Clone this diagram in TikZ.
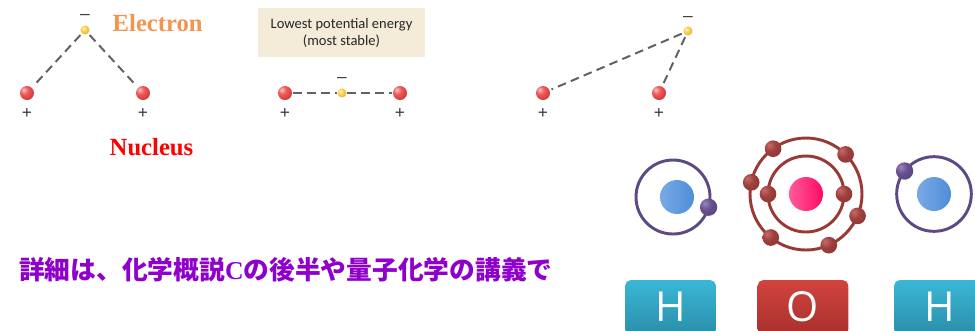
\documentclass[tikz,border=0pt]{standalone}
\usepackage{fontspec}
\setmainfont{Liberation Serif}
\newfontfamily\labelsans{Carlito}
\newfontfamily\tilefont{Open Sans}
\newfontfamily\signfont{Liberation Sans}
\newfontfamily\cjk{Noto Sans CJK JP}

\definecolor{dashgray}{HTML}{626262}
\definecolor{signgray}{HTML}{3E3448}
\definecolor{elorange}{HTML}{F39550}
\definecolor{boxbeige}{HTML}{F4ECD8}
\definecolor{hpurple}{HTML}{5C4A86}
\definecolor{orbred}{HTML}{9A3934}
\definecolor{nucblue}{HTML}{4E8ED8}
\definecolor{nucbluelt}{HTML}{79AAE6}
\definecolor{nucpink}{HTML}{FF0A64}
\definecolor{nucpinklt}{HTML}{FF5C9A}
\definecolor{tealtop}{HTML}{3AB7D6}
\definecolor{tealbot}{HTML}{2A8EAA}
\definecolor{redtop}{HTML}{D2433D}
\definecolor{redbot}{HTML}{A8302D}
\definecolor{jpviolet}{HTML}{8F00CC}

% soft spheres with an off-centre highlight
\pgfdeclareradialshading{redsphere}{\pgfpoint{-12bp}{12bp}}{%
  rgb(0bp)=(1,0.78,0.78); rgb(14bp)=(0.93,0.36,0.36); rgb(40bp)=(0.80,0.17,0.17);
  rgb(100bp)=(0.80,0.17,0.17)}
\pgfdeclareradialshading{yellowsphere}{\pgfpoint{-10bp}{10bp}}{%
  rgb(0bp)=(1,0.97,0.75); rgb(16bp)=(0.98,0.80,0.30); rgb(42bp)=(0.90,0.66,0.15);
  rgb(100bp)=(0.90,0.66,0.15)}
\pgfdeclareradialshading{brownsphere}{\pgfpoint{-12bp}{12bp}}{%
  rgb(0bp)=(0.78,0.42,0.42); rgb(18bp)=(0.62,0.25,0.24); rgb(42bp)=(0.55,0.20,0.19);
  rgb(100bp)=(0.55,0.20,0.19)}
\pgfdeclareradialshading{purplesphere}{\pgfpoint{-12bp}{12bp}}{%
  rgb(0bp)=(0.60,0.52,0.75); rgb(18bp)=(0.40,0.31,0.55); rgb(42bp)=(0.34,0.26,0.49);
  rgb(100bp)=(0.34,0.26,0.49)}

\begin{document}
\begin{tikzpicture}[x=0.75pt,y=-0.75pt,
  nucleus/.style={circle,inner sep=0pt,minimum size=10.5pt,shading=redsphere},
  electron/.style={circle,inner sep=0pt,minimum size=6.8pt,shading=yellowsphere},
  bond/.style={draw=dashgray,line width=1.5pt,dash pattern=on 6.5pt off 4pt,
               shorten <=1.5pt,shorten >=1.5pt},
  charge/.style={inner sep=0pt,text=signgray,font=\signfont\fontsize{13}{13}\selectfont},
  orbit/.style={circle,draw,inner sep=0pt,outer sep=0pt,line width=2.2pt},
  oelec/.style={circle,inner sep=0pt,minimum size=12.5pt,shading=brownsphere},
  helec/.style={circle,inner sep=0pt,minimum size=13pt,shading=purplesphere},
  tile/.style={rectangle,rounded corners=4pt,minimum width=68pt,minimum height=41pt,
               inner sep=0pt},
  tiletext/.style={inner sep=0pt,text=white,font=\tilefont\fontsize{31}{31}\selectfont},
]
\useasboundingbox (0,0) rectangle (975,330);
\clip (0,0) rectangle (975,330);

% --- electron above the midpoint ---
\node[nucleus] (p1a) at (27,93) {};
\node[nucleus] (p1b) at (143,93) {};
\node[electron] (e1) at (85,30) {};
\draw[bond] (e1) -- (p1a);
\draw[bond] (e1) -- (p1b);
\node[charge] (m1) at (85,17) {\textendash};
\node[charge] (s1a) at (27,113) {+};
\node[charge] (s1b) at (143,113) {+};
\node[anchor=base west,text=elorange,font=\bfseries\fontsize{18.5}{18.5}\selectfont]
  (lblE) at (108,31) {Electron};
\node[anchor=base west,text=red,font=\bfseries\fontsize{18.5}{18.5}\selectfont]
  (lblN) at (105,155) {Nucleus};

% --- electron between the nuclei ---
\node[fill=boxbeige,minimum width=125pt,minimum height=36.75pt,inner sep=0pt,
      align=center,text=black!85,font=\labelsans\fontsize{10.9}{12.8}\selectfont]
  (stable) at (341.5,32.5) {Lowest potential energy\\(most stable)};
\node[nucleus] (p2a) at (285,93) {};
\node[nucleus] (p2b) at (400,93) {};
\node[electron] (e2) at (342,93) {};
\draw[bond,shorten <=0.5pt,shorten >=0.5pt] (p2a) -- (e2);
\draw[bond,shorten <=0.5pt,shorten >=0.5pt] (e2) -- (p2b);
\node[charge] (m2) at (342,80) {\textendash};
\node[charge] (s2a) at (285,113) {+};
\node[charge] (s2b) at (400,113) {+};

% --- electron off to the side ---
\node[nucleus] (p3a) at (543,93) {};
\node[nucleus] (p3b) at (659,93) {};
\node[electron] (e3) at (688,31) {};
\draw[bond] (e3) -- (p3a);
\draw[bond] (e3) -- (p3b);
\node[charge] (m3) at (688,19) {\textendash};
\node[charge] (s3a) at (543,113) {+};
\node[charge] (s3b) at (659,113) {+};

% --- Japanese note ---
\node[anchor=west,inner sep=0pt,text=jpviolet,font=\bfseries\fontsize{19.3}{19.3}\selectfont]
  (note) at (19,270) {\cjk 詳細は、化学概説{\rmfamily C}の後半や量子化学の講義で};

% --- hydrogen (left) ---
\node[orbit,draw=hpurple,minimum size=55.5pt] (horbL) at (673,197) {};
\node[circle,inner sep=0pt,minimum size=25.5pt,shading=axis,shading angle=135,
      left color=nucbluelt,right color=nucblue] (hnucL) at (677,197) {};
\node[helec] (helL) at (horbL.-16) {};

% --- oxygen ---
\node[orbit,draw=orbred,minimum size=84pt] (oout) at (806,194) {};
\node[orbit,draw=orbred,minimum size=57pt] (oin) at (806,194) {};
\node[circle,inner sep=0pt,minimum size=25.5pt,shading=axis,shading angle=135,
      left color=nucpinklt,right color=nucpink] (onuc) at (806,194) {};
\node[oelec] (oi1) at (oin.180) {};
\node[oelec] (oi2) at (oin.0) {};
\node[oelec] (oo1) at (oout.126) {};
\node[oelec] (oo2) at (oout.45) {};
\node[oelec] (oo3) at (oout.168) {};
\node[oelec] (oo4) at (oout.-23) {};
\node[oelec] (oo5) at (oout.-129) {};
\node[oelec] (oo6) at (oout.-66) {};

% --- hydrogen (right) ---
\node[orbit,draw=hpurple,minimum size=56pt] (horbR) at (934,194) {};
\node[circle,inner sep=0pt,minimum size=25.5pt,shading=axis,shading angle=135,
      left color=nucbluelt,right color=nucblue] (hnucR) at (934,194) {};
\node[helec] (helR) at (horbR.142) {};

% --- element tiles ---
\node[tile,top color=tealtop,bottom color=tealbot] (tH1) at (670.5,307.5) {};
\node[tile,top color=redtop,bottom color=redbot] (tO) at (803,307.5) {};
\node[tile,top color=tealtop,bottom color=tealbot] (tH2) at (939.5,307.5) {};
\node[tiletext] (lH1) at (670.5,306.5) {H};
\node[tiletext] (lO) at (803,306.5) {O};
\node[tiletext] (lH2) at (939.5,306.5) {H};
\end{tikzpicture}
\end{document}
